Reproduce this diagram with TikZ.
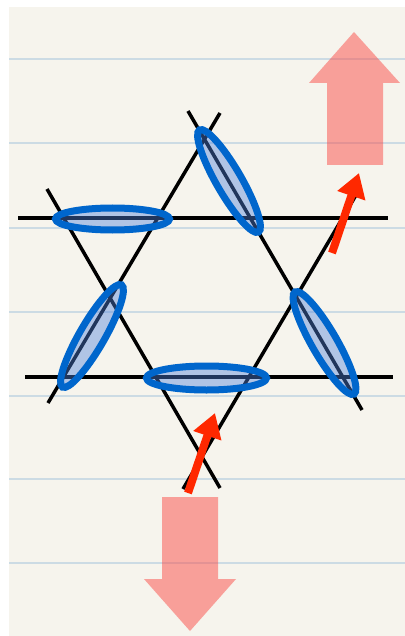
\documentclass[tikz,border=0pt]{standalone}
\usetikzlibrary{arrows.meta}
\definecolor{paper}{RGB}{246,244,237}
\definecolor{ruling}{RGB}{204,219,228}
\definecolor{bondblue}{RGB}{0,102,204}
\definecolor{bondfill}{RGB}{80,130,220}
\definecolor{bigpink}{RGB}{250,75,70}
\definecolor{spinred}{RGB}{255,40,0}
\begin{document}
\begin{tikzpicture}[x=0.5pt,y=-0.5pt,
  lattice/.style={black,line width=1.75pt},
  dimer/.style={draw=bondblue,line width=3.5pt,fill=bondfill,fill opacity=0.42},
  spin/.style={spinred,line width=4pt,-{Triangle[length=12pt,width=14pt]}},
  bigarrow/.style={fill=bigpink,fill opacity=0.5}]
  \useasboundingbox (0,0) rectangle (405,636);
  \fill[white] (0,0) rectangle (405,636);
  \fill[paper] (9,7) rectangle (405,636);
  \foreach \y in {59,143,228,312,396,479,563}
    \draw[ruling,line width=1pt] (9,\y) -- (405,\y);
  % star of two triangles
  \draw[lattice] (18,218) -- (388,218);
  \draw[lattice] (25,377) -- (393,377);
  \draw[lattice] (48,403) -- (220,113);
  \draw[lattice] (188,111) -- (362,410);
  \draw[lattice] (47,189) -- (220,488);
  \draw[lattice] (183,489) -- (359,190);
  % singlet bonds
  \draw[dimer] (112.5,219) ellipse [x radius=28.5pt,y radius=5.5pt];
  \draw[dimer] (206.5,378) ellipse [x radius=30pt,y radius=6pt];
  \draw[dimer] (229,181) circle [x radius=29.5pt,y radius=6.25pt,rotate=-60];
  \draw[dimer] (92,336) circle [x radius=29.5pt,y radius=6.25pt,rotate=60];
  \draw[dimer] (324.5,343) circle [x radius=29.5pt,y radius=6.25pt,rotate=-60];
  % big arrows
  \fill[bigarrow] (327,165) -- (327,83) -- (309,83) -- (354,32) -- (400,83) -- (383,83) -- (383,165) -- cycle;
  \fill[bigarrow] (162,497) -- (162,579) -- (144,579) -- (190,631) -- (236,579) -- (218,579) -- (218,497) -- cycle;
  % free spins
  \coordinate (s1a) at (188,493); \coordinate (s1b) at (215,413);
  \coordinate (s2a) at (332,253); \coordinate (s2b) at (359,173);
  \draw[spin] (s1a) -- (s1b);
  \draw[spin] (s2a) -- (s2b);
\end{tikzpicture}
\end{document}
